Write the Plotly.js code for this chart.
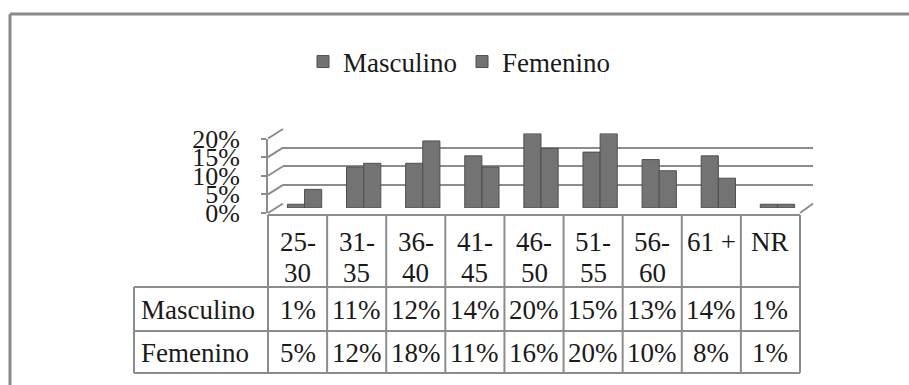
<!DOCTYPE html>
<html>
<head>
<meta charset="utf-8">
<script src="https://cdn.plot.ly/plotly-3.0.1.min.js"></script>
<style>html,body{margin:0;padding:0;background:#fff;}#chart{width:909px;height:385px;}</style>
</head>
<body>
<div id="chart"></div>
<script>
// ---- data ----
const ageGroups   = ['25-30','31-35','36-40','41-45','46-50','51-55','56-60','61 +','NR'];
const headerLine1 = ['25-','31-','36-','41-','46-','51-','56-','61 +','NR'];
const headerLine2 = ['30','35','40','45','50','55','60','',''];
const masculino   = [1,11,12,14,20,15,13,14,1];
const femenino    = [5,12,18,11,16,20,10,8,1];
const seriesNames = ['Masculino','Femenino'];
const yTickVals   = [0,5,10,15,20];
const yTickText   = ['0%','5%','10%','15%','20%'];

// ---- geometry (pixels) ----
const W = 909, H = 385;
const px = x => x / W;
const py = y => 1 - y / H;
const FONT = 'Liberation Serif, Times New Roman, serif';
const TXT = '#1a1a1a';
const GRID = '#8c8c8c';

const frontX = 268, backX = 283, backRight = 813;
const front0 = 213, front20 = 138.5;
const back0 = 203.5, back20 = 129;
const bar0 = 208, bar20 = 133.5;
const tableLeft = 134, colStart = 268, colEnd = 800;
const headerTop = 215, row1Top = 287, row2Top = 331, tableBottom = 373;
const colW = (colEnd - colStart) / ageGroups.length;

const barStyle = {color:'#737373', line:{color:'#4f4f4f', width:1}};
const traces = [
  // back wall grid subplot (xy)
  {type:'scatter', x:[], y:[], xaxis:'x', yaxis:'y', showlegend:false, hoverinfo:'skip'},
  // bars (x2y2)
  {type:'bar', name:seriesNames[0], x:ageGroups, y:masculino, xaxis:'x2', yaxis:'y2',
   marker:barStyle, hoverinfo:'skip'},
  {type:'bar', name:seriesNames[1], x:ageGroups, y:femenino, xaxis:'x2', yaxis:'y2',
   marker:barStyle, hoverinfo:'skip'},
  // front axis subplot (x3y3)
  {type:'scatter', x:[], y:[], xaxis:'x3', yaxis:'y3', showlegend:false, hoverinfo:'skip'}
];

const hidden = {showgrid:false, zeroline:false, showline:false, showticklabels:false, ticks:''};

const shapes = [];
const line = (x0,y0,x1,y1,c,w) => shapes.push({type:'line', xref:'paper', yref:'paper',
  x0:px(x0), y0:py(y0), x1:px(x1), y1:py(y1), line:{color:c||GRID, width:w||2}});

// outer frame
line(10, 14, 909, 14, '#8a8a8a', 3);
line(10, 14, 10, 385, '#8a8a8a', 3);

// depth connectors from front axis ticks to back gridlines
yTickVals.forEach(t => {
  const yf = front0 + (front20 - front0) * t / 20;
  const yb = back0 + (back20 - back0) * t / 20;
  line(frontX, yf, backX, yb);
});
// floor right edge
line(backRight, back0, colEnd, front0);

// table borders
line(colStart, headerTop, colEnd, headerTop);
[row1Top, row2Top, tableBottom].forEach(y => line(tableLeft, y, colEnd, y));
line(tableLeft, row1Top, tableLeft, tableBottom);
for (let i = 0; i <= ageGroups.length; i++) {
  const x = colStart + i * colW;
  line(x, headerTop, x, tableBottom);
}

// table text
const annotations = [];
const txt = (x, y, s, anchor) => annotations.push({xref:'paper', yref:'paper', x:px(x), y:py(y),
  text:s, showarrow:false, xanchor:anchor||'center', yanchor:'middle',
  font:{family:FONT, size:27, color:TXT}});

ageGroups.forEach((g, i) => {
  const cx = colStart + (i + 0.5) * colW;
  txt(cx, 242, headerLine1[i]);
  if (headerLine2[i]) txt(cx, 273, headerLine2[i]);
  txt(cx, (row1Top + row2Top) / 2 + 1, masculino[i] + '%');
  txt(cx, (row2Top + tableBottom) / 2 + 1, femenino[i] + '%');
});
txt(tableLeft + 5, (row1Top + row2Top) / 2 + 1, seriesNames[0], 'left');
txt(tableLeft + 5, (row2Top + tableBottom) / 2 + 1, seriesNames[1], 'left');

const layout = {
  width: W, height: H,
  margin:{l:0, r:0, t:0, b:0},
  paper_bgcolor:'#ffffff', plot_bgcolor:'rgba(0,0,0,0)',
  barmode:'group', bargap:0.42, bargroupgap:0,
  font:{family:FONT, size:27, color:TXT},
  showlegend:true,
  legend:{orientation:'h', x:px(303), y:py(62), xanchor:'left', yanchor:'middle',
          font:{family:FONT, size:27, color:TXT}, bgcolor:'rgba(0,0,0,0)', traceorder:'normal'},
  // back wall gridlines
  xaxis:Object.assign({domain:[px(backX), px(backRight)], range:[0,1], anchor:'y'}, hidden),
  yaxis:{domain:[py(back0), py(back20)], range:[-0.05, 20.05], anchor:'x',
         tickvals:yTickVals, showgrid:true, gridcolor:GRID, gridwidth:2,
         zeroline:false, showline:false, showticklabels:false, ticks:''},
  // bars
  xaxis2:Object.assign({domain:[px(frontX + 7), px(colEnd + 7)], type:'category',
          range:[-0.5, ageGroups.length - 0.5], anchor:'y2'}, hidden),
  yaxis2:Object.assign({domain:[py(bar0), py(bar20)], range:[0,20], anchor:'x2'}, hidden),
  // front value axis
  xaxis3:Object.assign({domain:[px(frontX), px(frontX + 2)], range:[0,1], anchor:'y3'}, hidden),
  yaxis3:{domain:[py(front0), py(front20)], range:[0,20], anchor:'x3', side:'left',
          tickmode:'array', tickvals:yTickVals, ticktext:yTickText,
          showline:true, linecolor:GRID, linewidth:2,
          ticks:'outside', ticklen:5, tickcolor:GRID, tickwidth:2, ticklabelstandoff:16,
          showgrid:false, zeroline:false,
          tickfont:{family:FONT, size:26, color:TXT}},
  shapes: shapes,
  annotations: annotations
};

Plotly.newPlot('chart', traces, layout, {staticPlot:true, displayModeBar:false});
</script>
</body>
</html>
